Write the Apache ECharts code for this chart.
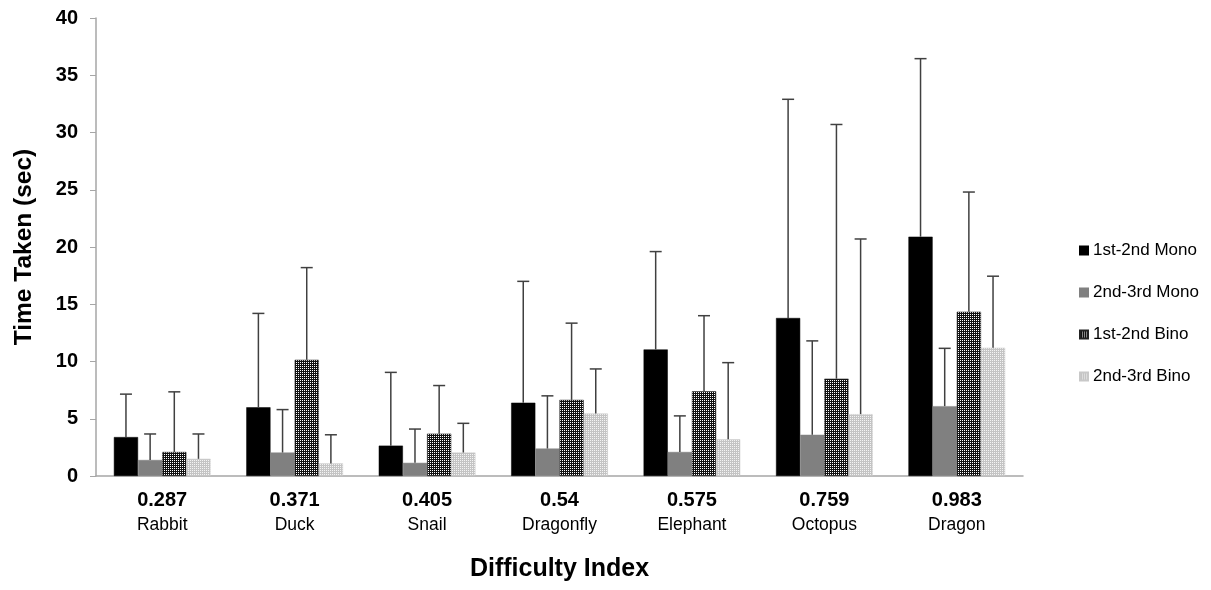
<!DOCTYPE html>
<html><head><meta charset="utf-8">
<script src="https://cdn.jsdelivr.net/npm/echarts@6/dist/echarts.min.js"></script>
<style>html,body{margin:0;padding:0;background:#fff}#c{width:1211px;height:590px}</style>
</head><body><div id="c"></div>
<script>
const categories = ['Rabbit','Duck','Snail','Dragonfly','Elephant','Octopus','Dragon'];
const difficulty = ['0.287','0.371','0.405','0.54','0.575','0.759','0.983'];
const seriesNames = ['1st-2nd Mono','2nd-3rd Mono','1st-2nd Bino','2nd-3rd Bino'];
const mono12 = [3.4, 6.0, 2.65, 6.4, 11.05, 13.8, 20.9];
const mono23 = [1.4, 2.05, 1.15, 2.4, 2.1, 3.6, 6.1];
const bino12 = [2.1, 10.15, 3.7, 6.65, 7.4, 8.5, 14.35];
const bino23 = [1.5, 1.1, 2.05, 5.45, 3.2, 5.4, 11.2];
const mono12Top = [7.15, 14.2, 9.05, 17.0, 19.6, 32.9, 36.45];
const mono23Top = [3.67, 5.8, 4.1, 7.0, 5.25, 11.8, 11.15];
const bino12Top = [7.35, 18.2, 7.9, 13.35, 14.0, 30.7, 24.8];
const bino23Top = [3.67, 3.6, 4.6, 9.35, 9.9, 20.7, 17.45];
const yTicks = {min: 0, max: 40, interval: 5};

const FONT = 'Liberation Sans, Arial, sans-serif';
function pattern(bg, dot) {
  const c = document.createElement('canvas');
  c.width = 4; c.height = 4;
  const g = c.getContext('2d');
  g.fillStyle = bg; g.fillRect(0,0,4,4);
  g.fillStyle = dot;
  g.fillRect(0,0,1,1); g.fillRect(2,2,1,1);
  g.fillRect(2,0,1,1); g.fillRect(0,2,1,1);
  return {image: c, repeat: 'repeat'};
}
const colors = ['#000000', '#808080', pattern('#111111','#ffffff'), pattern('#c4c4c4','#f4f4f4')];
const borders = ['#000000', '#808080', '#222222', '#c8c8c8'];
const values = [mono12, mono23, bino12, bino23];
const tops = [mono12Top, mono23Top, bino12Top, bino23Top];
const gapFrac = 0.27;

const chart = echarts.init(document.getElementById('c'));
const series = [];
values.forEach((v, i) => {
  series.push({
    name: seriesNames[i], type: 'bar', data: v,
    barGap: '0%', barCategoryGap: (gapFrac*100) + '%',
    itemStyle: {color: colors[i], borderColor: borders[i], borderWidth: 0.5},
    z: 2
  });
});
values.forEach((v, i) => {
  series.push({
    type: 'custom', silent: true, z: 3,
    data: v.map((m, j) => [j, m, tops[i][j]]),
    renderItem: function (params, api) {
      const band = api.size([1, 0])[0];
      const gw = band * (1 - gapFrac);
      const bw = gw / 4;
      const c = api.coord([api.value(0), api.value(1)]);
      const t = api.coord([api.value(0), api.value(2)]);
      const x = c[0] - gw / 2 + (i + 0.5) * bw;
      const cap = 6;
      const st = {stroke: '#404040', lineWidth: 1.5};
      return {type: 'group', children: [
        {type: 'line', shape: {x1: x, y1: c[1], x2: x, y2: t[1]}, style: st},
        {type: 'line', shape: {x1: x - cap, y1: t[1], x2: x + cap, y2: t[1]}, style: st}
      ]};
    }
  });
});

chart.setOption({
  animation: false,
  textStyle: {fontFamily: FONT},
  grid: {left: 96, right: 188, top: 18, bottom: 114},
  legend: {
    data: seriesNames, orient: 'vertical', left: 1074, top: 237,
    itemWidth: 8, itemHeight: 8, itemGap: 25, icon: 'rect',
    textStyle: {fontSize: 17, color: '#000', fontFamily: FONT}
  },
  xAxis: {
    type: 'category', data: categories,
    axisLine: {lineStyle: {color: '#a6a6a6', width: 1.5}},
    axisTick: {show: false},
    axisLabel: {
      margin: 12,
      formatter: (val, idx) => '{a|' + difficulty[idx] + '}\n{b|' + val + '}',
      rich: {
        a: {fontSize: 20, fontWeight: 'bold', color: '#000', lineHeight: 25, fontFamily: FONT},
        b: {fontSize: 17.5, color: '#000', lineHeight: 25, fontFamily: FONT}
      }
    },
    name: 'Difficulty Index', nameLocation: 'middle', nameGap: 81,
    nameTextStyle: {fontSize: 25, fontWeight: 'bold', color: '#000', fontFamily: FONT}
  },
  yAxis: {
    type: 'value', min: yTicks.min, max: yTicks.max, interval: yTicks.interval,
    axisLine: {show: true, lineStyle: {color: '#a6a6a6', width: 1.5}},
    axisTick: {show: true, length: 6, lineStyle: {color: '#a6a6a6'}},
    splitLine: {show: false},
    axisLabel: {fontSize: 20, fontWeight: 'bold', color: '#000', margin: 18, fontFamily: FONT},
    name: 'Time Taken (sec)', nameLocation: 'middle', nameGap: 59, nameRotate: 90,
    nameTextStyle: {fontSize: 24.5, fontWeight: 'bold', color: '#000', fontFamily: FONT}
  },
  series: series
});
</script></body></html>
